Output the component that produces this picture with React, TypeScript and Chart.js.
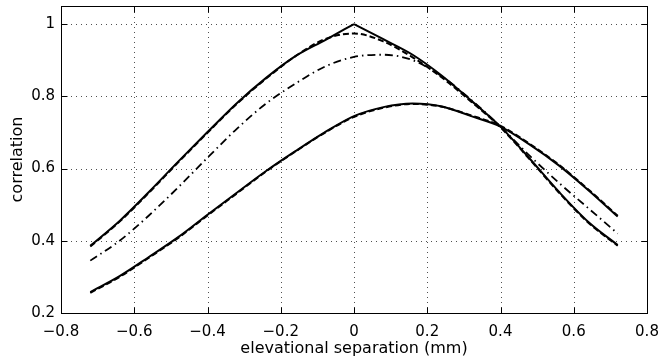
import React, { useEffect, useRef } from 'react';
import { Chart, registerables } from 'chart.js';

Chart.register(...registerables);

// separation values (mm)
const xValues = [-0.72, -0.64, -0.56, -0.48, -0.4, -0.32, -0.24, -0.16, -0.08, 0, 0.08, 0.16, 0.24, 0.32, 0.4, 0.48, 0.56, 0.64, 0.72];
// curves centred at 0
const centredSolid = [0.386, 0.455, 0.535, 0.619, 0.701, 0.781, 0.851, 0.911, 0.955, 1.0, 0.958, 0.915, 0.857, 0.788, 0.716, 0.627, 0.535, 0.452, 0.388];
const centredDashed = [0.384, 0.453, 0.533, 0.617, 0.699, 0.779, 0.849, 0.911, 0.958, 0.974, 0.952, 0.908, 0.852, 0.785, 0.714, 0.625, 0.533, 0.45, 0.386];
const centredDashDot = [0.345, 0.40, 0.47, 0.548, 0.63, 0.71, 0.78, 0.835, 0.882, 0.909, 0.915, 0.9, 0.855, 0.79, 0.716, 0.635, 0.56, 0.49, 0.42];
// curves peaking off-centre
const shiftedSolid = [0.258, 0.302, 0.355, 0.41, 0.472, 0.533, 0.593, 0.648, 0.70, 0.745, 0.77, 0.78, 0.772, 0.745, 0.716, 0.666, 0.608, 0.54, 0.467];
const shiftedDashed = [0.256, 0.3, 0.353, 0.408, 0.47, 0.531, 0.592, 0.647, 0.699, 0.743, 0.768, 0.779, 0.771, 0.747, 0.718, 0.668, 0.61, 0.542, 0.469];

const xTicks = [-0.8, -0.6, -0.4, -0.2, 0, 0.2, 0.4, 0.6, 0.8];
const yTicks = [0.2, 0.4, 0.6, 0.8, 1];

const peakIndex = xValues.indexOf(0);
const toPoints = (ys: number[], from = 0, to = xValues.length) =>
  xValues.slice(from, to).map((x, i) => ({ x, y: ys[from + i] }));

const framePlugin = {
  id: 'matlabFrame',
  beforeDatasetsDraw(chart: any) {
    const { ctx, chartArea: a, scales } = chart;
    ctx.save();
    ctx.strokeStyle = '#505050';
    ctx.lineWidth = 1;
    ctx.setLineDash([1, 4]);
    scales.x.ticks.forEach((t: any) => {
      const px = Math.round(scales.x.getPixelForValue(t.value)) + 0.5;
      ctx.beginPath();
      ctx.moveTo(px, a.bottom);
      ctx.lineTo(px, a.top);
      ctx.stroke();
    });
    scales.y.ticks.forEach((t: any) => {
      const py = Math.round(scales.y.getPixelForValue(t.value)) + 0.5;
      ctx.beginPath();
      ctx.moveTo(a.left, py);
      ctx.lineTo(a.right, py);
      ctx.stroke();
    });
    ctx.restore();
  },
  afterDraw(chart: any) {
    const { ctx, chartArea: a, scales } = chart;
    ctx.save();
    ctx.strokeStyle = '#000';
    ctx.lineWidth = 1;
    ctx.setLineDash([]);
    const L = Math.round(a.left) + 0.5;
    const R = Math.round(a.right) + 0.5;
    const T = Math.round(a.top) + 0.5;
    const B = Math.round(a.bottom) + 0.5;
    ctx.strokeRect(L, T, R - L, B - T);
    const len = 6;
    ctx.beginPath();
    scales.x.ticks.forEach((t: any) => {
      const px = Math.round(scales.x.getPixelForValue(t.value)) + 0.5;
      ctx.moveTo(px, B);
      ctx.lineTo(px, B - len);
      ctx.moveTo(px, T);
      ctx.lineTo(px, T + len);
    });
    scales.y.ticks.forEach((t: any) => {
      const py = Math.round(scales.y.getPixelForValue(t.value)) + 0.5;
      ctx.moveTo(L, py);
      ctx.lineTo(L + len, py);
      ctx.moveTo(R, py);
      ctx.lineTo(R - len, py);
    });
    ctx.stroke();
    ctx.restore();
  },
};

export default function App() {
  const ref = useRef<HTMLCanvasElement | null>(null);

  useEffect(() => {
    if (!ref.current) return;
    const fam = "'DejaVu Sans', sans-serif";
    const base = { borderColor: '#000', cubicInterpolationMode: 'monotone' as const, pointRadius: 0, fill: false };
    const solid = { ...base, borderWidth: 2 };
    const dashed = { ...base, borderWidth: 2, borderDash: [6, 3] };
    const chart = new Chart(ref.current, {
      type: 'line',
      data: {
        datasets: [
          { ...dashed, data: toPoints(centredDashed) },
          { ...dashed, data: toPoints(shiftedDashed) },
          { ...base, borderWidth: 1.8, borderDash: [8, 4, 1.5, 4], data: toPoints(centredDashDot) },
          { ...solid, data: toPoints(centredSolid, 0, peakIndex + 1) },
          { ...solid, data: toPoints(centredSolid, peakIndex) },
          { ...solid, data: toPoints(shiftedSolid) },
        ],
      },
      options: {
        animation: false,
        responsive: false,
        devicePixelRatio: 1,
        layout: { padding: { top: 6, right: 13, left: 0, bottom: 0 } },
        plugins: { legend: { display: false }, tooltip: { enabled: false } },
        scales: {
          x: {
            type: 'linear',
            min: -0.8,
            max: 0.8,
            afterBuildTicks: (s: any) => { s.ticks = xTicks.map((v) => ({ value: v })); },
            afterFit: (s: any) => { s.height = 45; s.paddingLeft = 0; s.paddingRight = 0; },
            grid: { display: false, drawTicks: false },
            border: { display: false },
            ticks: {
              color: '#000',
              padding: 10,
              maxRotation: 0,
              autoSkip: false,
              font: { family: fam, size: 15 },
              callback: (v: any) => String(Math.round(Number(v) * 10) / 10).replace('-', '\u2212'),
            },
            title: {
              display: true,
              text: 'elevational separation (mm)',
              color: '#000',
              font: { family: fam, size: 16 },
              padding: { top: 0, bottom: 0 },
            },
          },
          y: {
            type: 'linear',
            min: 0.2,
            max: 1.05,
            afterBuildTicks: (s: any) => { s.ticks = yTicks.map((v) => ({ value: v })); },
            afterFit: (s: any) => { s.width = 61; s.paddingTop = 0; s.paddingBottom = 0; },
            grid: { display: false, drawTicks: false },
            border: { display: false },
            ticks: {
              color: '#000',
              padding: 6,
              autoSkip: false,
              font: { family: fam, size: 15 },
              callback: (v: any) => String(Math.round(Number(v) * 10) / 10),
            },
            title: {
              display: true,
              text: 'correlation',
              color: '#000',
              font: { family: fam, size: 16 },
              padding: { top: 8, bottom: 0 },
            },
          },
        },
      },
      plugins: [framePlugin],
    });
    return () => chart.destroy();
  }, []);

  return (
    <div style={{ position: 'absolute', left: 0, top: 0, width: 660, height: 358, background: '#fff' }}>
      <canvas ref={ref} width={660} height={358} style={{ display: 'block' }} />
    </div>
  );
}
